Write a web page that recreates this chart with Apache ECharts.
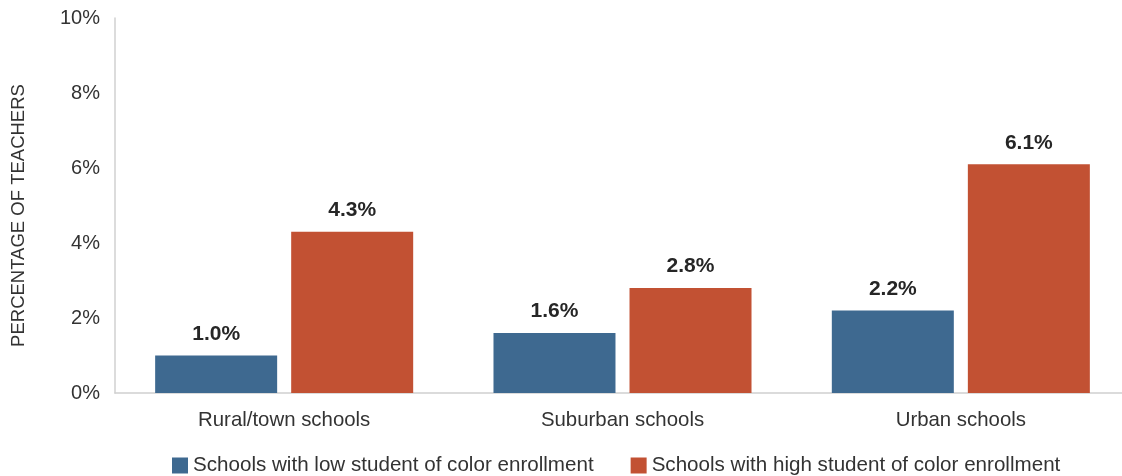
<!DOCTYPE html>
<html><head><meta charset="utf-8">
<script src="https://cdn.jsdelivr.net/npm/echarts@6/dist/echarts.min.js"></script>
<style>html,body{margin:0;padding:0;background:#fff}#c{width:1122px;height:476px}</style>
</head><body><div id="c"></div>
<script>
const categories = ['Rural/town schools', 'Suburban schools', 'Urban schools'];
const lowEnrollment = [1.0, 1.6, 2.2];
const highEnrollment = [4.3, 2.8, 6.1];
const seriesNames = ['Schools with low student of color enrollment', 'Schools with high student of color enrollment'];
const yTicks = {min: 0, max: 10, interval: 2};

const font = '"Liberation Sans", Arial, sans-serif';
const chart = echarts.init(document.getElementById('c'));
const lbl = {show: true, position: 'top', distance: 11, formatter: p => p.value.toFixed(1) + '%',
  fontFamily: font, fontSize: 21, fontWeight: 'bold', color: '#262626'};
chart.setOption({
  animation: false,
  textStyle: {fontFamily: font},
  grid: {left: 115, width: 1015, top: 18, bottom: 83, outerBoundsMode: 'none', containLabel: false},
  legend: {top: 450, left: 167, itemWidth: 16, itemHeight: 16, itemGap: 37, icon: 'rect',
    textStyle: {fontFamily: font, fontSize: 20.6, color: '#333'}},
  xAxis: {type: 'category', data: categories,
    axisLine: {lineStyle: {color: '#d0d0d0', width: 1.5}}, axisTick: {show: false},
    axisLabel: {fontFamily: font, fontSize: 20.4, color: '#333', margin: 17}},
  yAxis: {type: 'value', min: yTicks.min, max: yTicks.max, interval: yTicks.interval,
    name: 'PERCENTAGE OF TEACHERS', nameLocation: 'middle', nameGap: 87, nameRotate: 90,
    nameTextStyle: {fontFamily: font, fontSize: 18.5, color: '#333', padding: [0, 20, 0, 0]},
    axisLine: {show: true, lineStyle: {color: '#d0d0d0', width: 1.5}}, axisTick: {show: false},
    splitLine: {show: false},
    axisLabel: {formatter: v => v + '%', fontFamily: font, fontSize: 20, color: '#333', margin: 15}},
  series: [
    {name: seriesNames[0], type: 'bar', data: lowEnrollment, barWidth: 122, barGap: '11.5%',
      itemStyle: {color: '#3e6990'}, label: lbl},
    {name: seriesNames[1], type: 'bar', data: highEnrollment, barWidth: 122,
      itemStyle: {color: '#c25133'}, label: lbl}
  ]
});
</script></body></html>
